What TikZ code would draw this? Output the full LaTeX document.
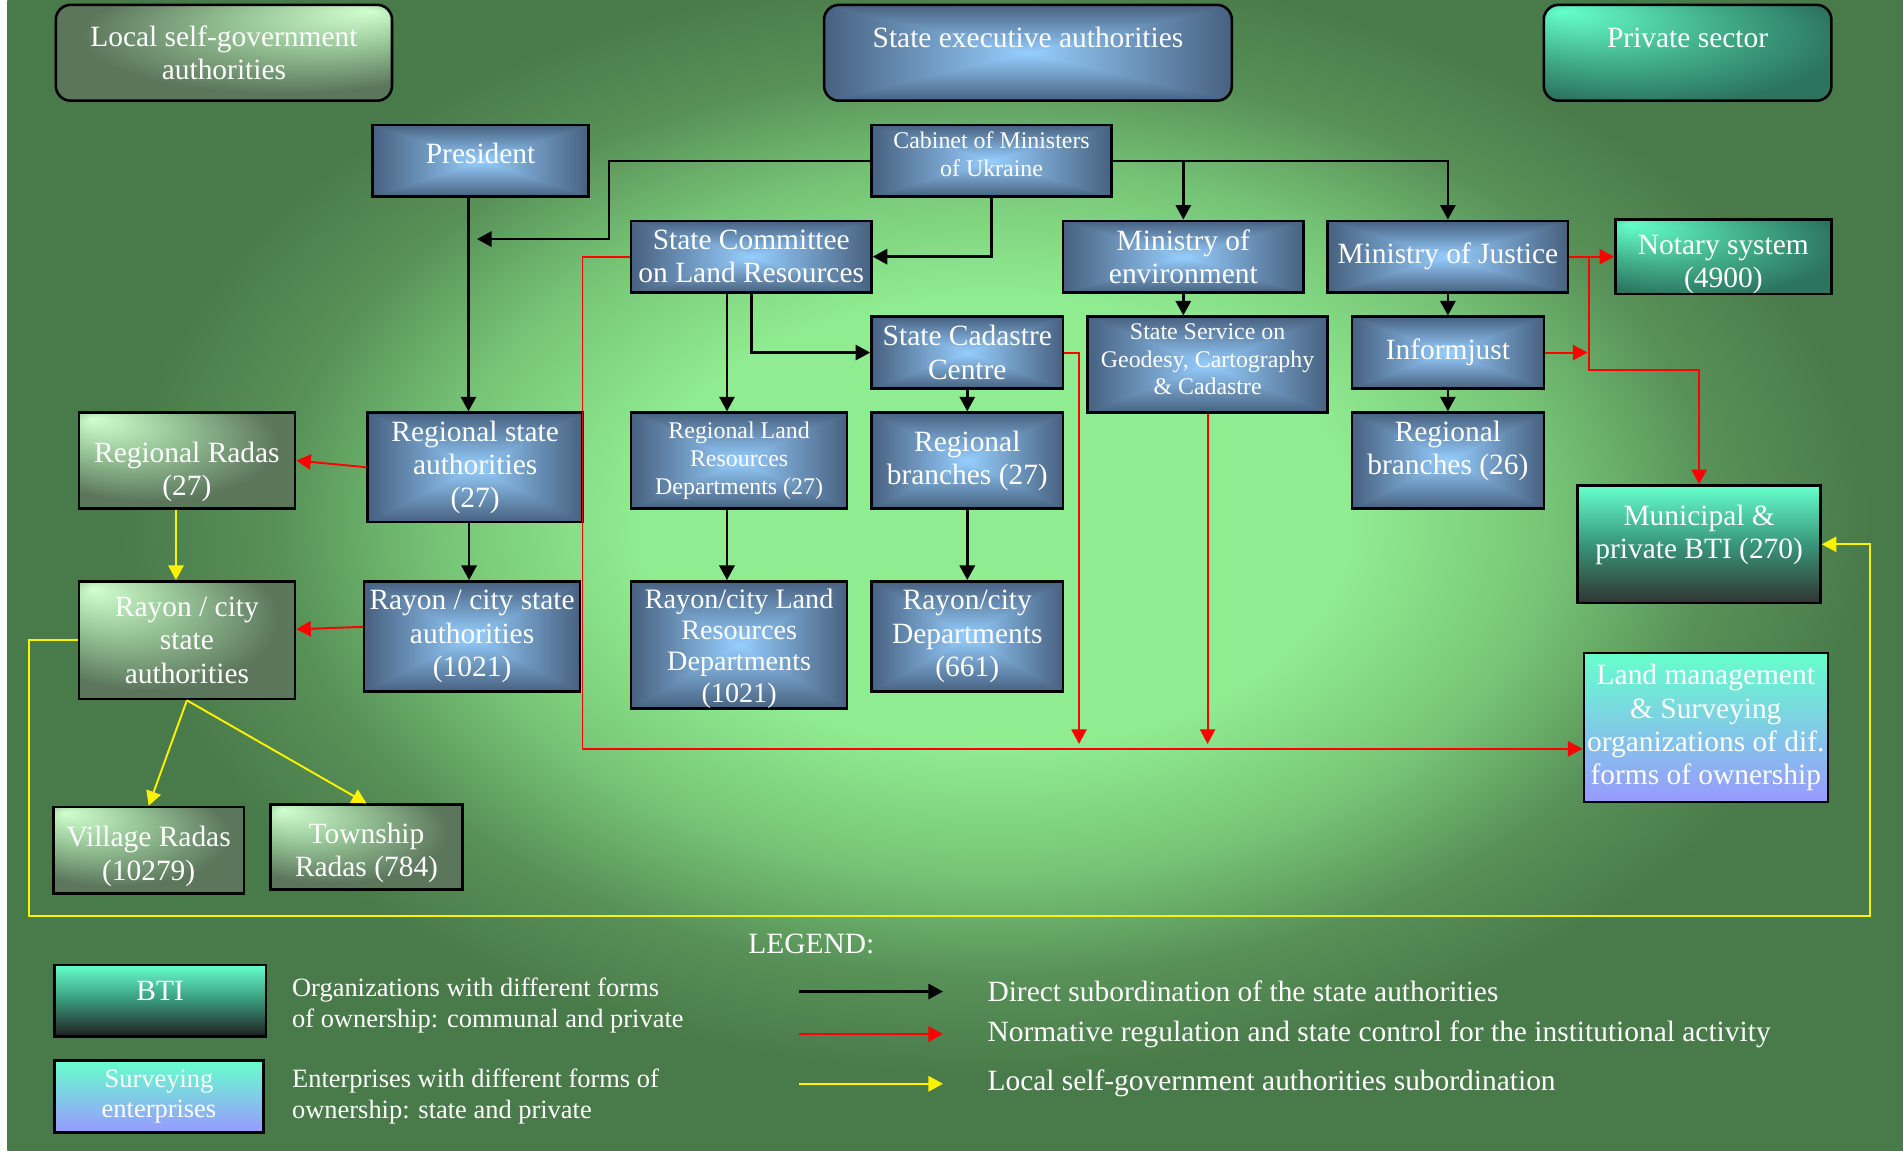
\documentclass[tikz,border=0pt]{standalone}
\usepackage{fontspec}
\setmainfont{Liberation Serif}
\usetikzlibrary{arrows.meta}

\newcommand\mainsz{\fontsize{6.9}{7.8}\selectfont}
\newcommand\smallsz{\fontsize{5.6}{6.5}\selectfont}
\newcommand\legsz{\fontsize{6.2}{7.1}\selectfont}
\newcommand\tightsz{\fontsize{6.6}{7.3}\selectfont}

\definecolor{bglight}{RGB}{144,236,144}
\definecolor{bgmid}{RGB}{118,196,118}
\definecolor{bgdeep}{RGB}{88,145,88}
\definecolor{bgdark}{RGB}{73,122,73}
\definecolor{radalight}{RGB}{208,255,208}
\definecolor{radamid}{RGB}{150,196,150}
\definecolor{radadark}{RGB}{92,118,92}
\definecolor{mint}{RGB}{102,255,204}
\definecolor{notamid}{RGB}{64,170,134}
\definecolor{notadark}{RGB}{44,116,94}
\definecolor{btimid}{RGB}{56,150,120}
\definecolor{btidark}{RGB}{48,52,50}
\definecolor{survblue}{RGB}{153,153,255}

% background and box fills
\pgfdeclareradialshading{bgshade}{\pgfpointorigin}{color(0bp)=(bglight); color(9bp)=(bglight); color(14bp)=(bgmid); color(18bp)=(bgdeep); color(22bp)=(bgdark); color(50bp)=(bgdark)}
\pgfdeclareradialshading{radashade}{\pgfpoint{-22bp}{22bp}}{color(0bp)=(radalight); color(14bp)=(radamid); color(30bp)=(radadark); color(50bp)=(radadark)}
\pgfdeclareradialshading{notashade}{\pgfpoint{-22bp}{22bp}}{color(0bp)=(mint); color(20bp)=(notamid); color(34bp)=(notadark); color(50bp)=(notadark)}
\pgfdeclarefunctionalshading{stateshade}{\pgfpoint{-50bp}{-50bp}}{\pgfpoint{50bp}{50bp}}{}{
  abs exch abs 2 copy lt {exch} if pop 25 div dup 1 gt {pop 1} if
  dup -0.31 mul 0.59 add exch
  dup -0.43 mul 0.81 add exch
  -0.50 mul 1.0 add
}

\begin{document}
\begin{tikzpicture}[
  >={Triangle[length=1.2mm,width=1.25mm]},
  every node/.style={text=white},
  boxsize/.style 2 args={minimum width=#1cm, minimum height=#2cm},
  govbox/.style={draw, line width=0.6pt, shade, shading=stateshade, align=center, inner sep=0pt, font=\mainsz},
  radabox/.style={draw, line width=0.6pt, shade, shading=radashade, align=center, inner sep=0pt, font=\mainsz},
  notabox/.style={draw, line width=0.6pt, shade, shading=notashade, align=center, inner sep=0pt, font=\mainsz},
  btibox/.style={draw, line width=0.6pt, top color=mint, bottom color=btidark, middle color=btimid, align=center, inner sep=0pt, font=\mainsz},
  survbox/.style={draw, line width=0.6pt, top color=mint, bottom color=survblue, align=center, inner sep=0pt, font=\mainsz},
  legtext/.style={anchor=west, align=left, inner sep=0pt, font=\legsz},
  subline/.style={draw, line width=0.6pt, ->},
  ctrlline/.style={draw=red, line width=0.45pt, ->},
  lsgline/.style={draw=yellow, line width=0.45pt, ->}
]
\useasboundingbox (0,0) rectangle (15.68,-9.48);
\begin{scope}
\clip (0.06,0) rectangle (15.68,-9.48);
\shade[shading=bgshade] (0,0.9) rectangle (16.4,-9.5);
\end{scope}

% headers
\node[radabox, boxsize={2.77}{0.79}, rounded corners=3.5pt, shading angle=-90] (lsg) at (1.845,-0.435) {Local self-government\\authorities};
\node[govbox, boxsize={3.36}{0.79}, rounded corners=3.5pt, text depth=0.25cm] (sea) at (8.47,-0.435) {State executive authorities};
\node[notabox, boxsize={2.37}{0.79}, rounded corners=3.5pt, text depth=0.25cm] (priv) at (13.905,-0.435) {Private sector};

% state authorities
\node[govbox, boxsize={1.78}{0.59}, text depth=0.13cm] (pres) at (3.96,-1.325) {President};
\node[govbox, boxsize={1.98}{0.59}, font=\smallsz, text depth=0.11cm] (cab) at (8.17,-1.325) {Cabinet of Ministers\\of Ukraine};
\node[govbox, boxsize={1.98}{0.59}] (scl) at (6.19,-2.115) {State Committee\\on Land Resources};
\node[govbox, boxsize={1.98}{0.59}] (menv) at (9.75,-2.115) {Ministry of\\environment};
\node[govbox, boxsize={1.98}{0.59}] (mjust) at (11.93,-2.115) {Ministry of Justice};
\node[notabox, boxsize={1.78}{0.59}, text height=0.565cm] (notary) at (14.20,-2.115) {Notary system\\(4900)};
\node[govbox, boxsize={1.58}{0.59}] (scc) at (7.97,-2.905) {State Cadastre\\Centre};
\node[govbox, boxsize={1.98}{0.79}, font=\smallsz, text depth=0.09cm] (ssgc) at (9.95,-3.005) {State Service on\\Geodesy, Cartography\\\& Cadastre};
\node[govbox, boxsize={1.58}{0.59}] (infj) at (11.93,-2.905) {Informjust};
\node[govbox, boxsize={1.77}{0.90}] (rsa) at (3.915,-3.85) {Regional state\\authorities\\(27)};
\node[govbox, boxsize={1.78}{0.79}, font=\smallsz] (rlrd) at (6.09,-3.795) {Regional Land\\Resources\\Departments (27)};
\node[govbox, boxsize={1.58}{0.79}] (rb27) at (7.97,-3.795) {Regional\\branches (27)};
\node[govbox, boxsize={1.58}{0.79}, text depth=0.21cm] (rb26) at (11.93,-3.795) {Regional\\branches (26)};
\node[govbox, boxsize={1.78}{0.91}] (rcsa) at (3.89,-5.245) {Rayon / city state\\authorities\\(1021)};
\node[govbox, boxsize={1.78}{1.05}, font=\tightsz, text height=0.99cm] (rclrd) at (6.09,-5.315) {Rayon/city Land\\Resources\\Departments\\(1021)};
\node[govbox, boxsize={1.58}{0.91}] (rcd) at (7.97,-5.245) {Rayon/city\\Departments\\(661)};

% local self-government
\node[radabox, boxsize={1.78}{0.79}, text height=0.625cm] (rrada) at (1.54,-3.795) {Regional Radas\\(27)};
\node[radabox, boxsize={1.78}{0.97}] (rlsg) at (1.54,-5.275) {Rayon / city\\state\\authorities};
\node[radabox, boxsize={1.57}{0.71}, text height=0.545cm] (vrada) at (1.225,-7.005) {Village Radas\\(10279)};
\node[radabox, boxsize={1.58}{0.70}, text height=0.535cm] (trada) at (3.02,-6.98) {Township\\Radas (784)};

% private sector
\node[btibox, boxsize={2.00}{0.97}, text depth=0.21cm] (mbti) at (14.00,-4.485) {Municipal \&\\private BTI (270)};
\node[survbox, boxsize={2.01}{1.23}] (lmso) at (14.055,-5.995) {Land management\\\& Surveying\\organizations of dif.\\forms of ownership};

% direct subordination
\path[subline] ([xshift=-1mm]pres.south) -- ([xshift=-1mm]pres.south |- rsa.north);
\coordinate (presjoin) at (3.93,-1.97);
\path[subline] (cab.west) -- ++(-2.15,0) |- (presjoin);
\path[subline] (cab.south) |- (scl.east);
\path[subline] (cab.east) -| (mjust.north);
\path[subline] (cab.east -| menv.north) -- (menv.north);
\path[subline] (menv.south) -- (menv.south |- ssgc.north);
\path[subline] (mjust.south) -- (infj.north);
\path[subline] (infj.south) -- (rb26.north);
\path[subline] ([xshift=-2mm]scl.south) -- ([xshift=-2mm]scl.south |- rlrd.north);
\path[subline] (scl.south) |- (scc.west);
\path[subline] (scc.south) -- (rb27.north);
\path[subline] ([xshift=-1mm]rlrd.south) -- ([xshift=-1mm]rlrd.south |- rclrd.north);
\path[subline] (rb27.south) -- (rcd.north);
\path[subline] ([xshift=-0.5mm]rsa.south) -- ([xshift=-0.5mm]rsa.south |- rcsa.north);

% normative regulation
\path[ctrlline] (rsa.west) -- (rrada.east);
\path[ctrlline] ([yshift=0.8mm]rcsa.west) -- ([yshift=0.9mm]rlsg.east);
\coordinate (lmsoin) at ([yshift=-1.75mm]lmso.west);
\path[ctrlline] (scl.west) -- ++(-0.39,0) |- (lmsoin);
\path[ctrlline] (scc.east) -| ([xshift=1.2mm,yshift=0.4mm]scc.east |- lmsoin);
\path[ctrlline] (ssgc.south) -- ([yshift=0.4mm]ssgc.south |- lmsoin);
\path[ctrlline] (mjust.east) -- (notary.west);
\path[ctrlline] (mjust.east) -- ++(0.16,0) |- ([yshift=0.94cm]mbti.north) -- (mbti.north);
\path[ctrlline] (infj.east) -- ++(0.35,0);

% local subordination
\path[lsgline] ([xshift=-0.9mm]rrada.south) -- ([xshift=-0.9mm]rrada.south |- rlsg.north);
\path[lsgline] (rlsg.south) -- (vrada.north);
\path[lsgline] (rlsg.south) -- (trada.north);
\path[lsgline] (rlsg.west) -- ++(-0.40,0) -- ++(0,-2.27) -| ([xshift=4mm]mbti.east) -- (mbti.east);

% legend
\node[font=\mainsz] (legend) at (6.685,-7.78) {LEGEND:};
\node[btibox, boxsize={1.74}{0.59}, bottom color=black!88, middle color=btimid, text depth=0.16cm] (lbti) at (1.32,-8.245) {BTI};
\node[survbox, boxsize={1.72}{0.59}, font=\legsz] (lsurv) at (1.31,-9.035) {Surveying\\enterprises};
\node[legtext] (lorg) at (2.40,-8.285) {Organizations with different forms\\of ownership: communal and private};
\node[legtext] (lent) at (2.40,-9.035) {Enterprises with different forms of\\ownership: state and private};
\node[legtext, font=\mainsz] (ldirect) at (8.13,-8.17) {Direct subordination of the state authorities};
\node[legtext, font=\mainsz] (lnorm) at (8.13,-8.52) {Normative regulation and state control for the institutional activity};
\node[legtext, font=\mainsz] (llocal) at (8.13,-8.93) {Local self-government authorities subordination};
\path[subline] ([xshift=-1.55cm]ldirect.west) -- ([xshift=-0.36cm]ldirect.west);
\path[ctrlline, line width=0.6pt] ([xshift=-1.55cm]lnorm.west) -- ([xshift=-0.36cm]lnorm.west);
\path[lsgline, line width=0.6pt] ([xshift=-1.55cm]llocal.west) -- ([xshift=-0.36cm]llocal.west);

\end{tikzpicture}
\end{document}
